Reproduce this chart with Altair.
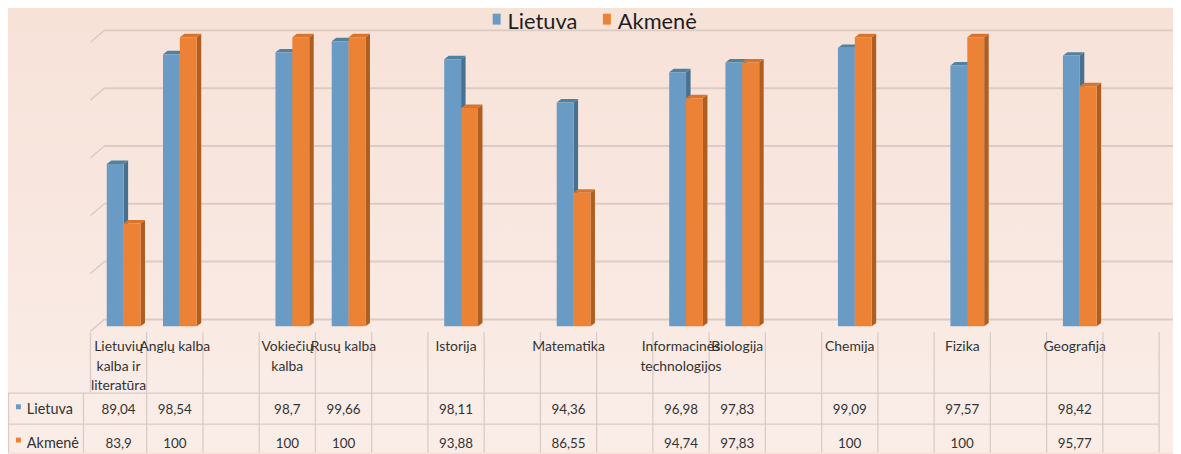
import altair as alt
import pandas as pd

# ---------------- data ----------------
categories = ["Lietuvių kalba ir literatūra", "Anglų kalba", "", "Vokiečių kalba", "Rusų kalba", "",
              "Istorija", "", "Matematika", "", "Informacinės technologijos", "Biologija", "",
              "Chemija", "", "Fizika", "", "Geografija", ""]
category_lines = [["Lietuvių", "kalba ir", "literatūra"], ["Anglų kalba"], [], ["Vokiečių", "kalba"],
                  ["Rusų kalba"], [], ["Istorija"], [], ["Matematika"], [],
                  ["Informacinės", "technologijos"], ["Biologija"], [], ["Chemija"], [], ["Fizika"], [],
                  ["Geografija"], []]
lietuva = [89.04, 98.54, None, 98.7, 99.66, None, 98.11, None, 94.36, None, 96.98, 97.83, None,
           99.09, None, 97.57, None, 98.42, None]
akmene = [83.9, 100, None, 100, 100, None, 93.88, None, 86.55, None, 94.74, 97.83, None,
          100, None, 100, None, 95.77, None]
series = ["Lietuva", "Akmenė"]
y_ticks = [75, 80, 85, 90, 95, 100]

# ---------------- style / layout ----------------
W, H = 1173, 446
BG_TOP, BG_BOTTOM = "#F7E2D8", "#FAEDE8"
FRONT = {"Lietuva": "#6A9BC4", "Akmenė": "#EC8235"}
SIDE = {"Lietuva": "#48708F", "Akmenė": "#B05E1F"}
CAP = {"Lietuva": "#52809F", "Akmenė": "#D7752E"}
GRID = "#DCCBC4"
LINE = "#D9CBC6"
TXT = "#333333"
FONT = "Lato"

n = len(categories)
xs = alt.Scale(domain=[0, n], range=[83, 1159], nice=False, zero=False)
ys = alt.Scale(domain=[y_ticks[0], y_ticks[-1]], range=[319, 28], nice=False, zero=False)
BASE = y_ticks[0]
BAR_W, BAR_SHIFT, DX, DY = 0.30, 0.09, 0.08, 0.30

front_rows, side_rows, cap_rows = [], [], []
for s_i, (sname, vals) in enumerate(zip(series, [lietuva, akmene])):
    for k, v in enumerate(vals):
        if v is None:
            continue
        xl = k + 0.5 + BAR_SHIFT - BAR_W + s_i * BAR_W
        xr = xl + BAR_W
        bid = f"{sname}-{k}"
        front_rows.append({"series": sname, "xl": xl, "xr": xr, "v": v, "base": BASE, "cat": categories[k]})
        side_rows += [{"series": sname, "id": bid, "x": xr, "top": v, "bot": BASE},
                      {"series": sname, "id": bid, "x": xr + DX, "top": v + DY, "bot": BASE + DY}]
        cap_rows += [{"series": sname, "id": bid, "y": v, "xa": xl, "xb": xr},
                     {"series": sname, "id": bid, "y": v + DY, "xa": xl + DX, "xb": xr + DX}]
front = pd.DataFrame(front_rows)
side = pd.DataFrame(side_rows)
cap = pd.DataFrame(cap_rows)

color_scale = alt.Scale(domain=series, range=[FRONT[s] for s in series])

# background gradient
bg = alt.Chart(pd.DataFrame({"a": [0]})).mark_rect(
    color=alt.LinearGradient(gradient="linear", x1=0, x2=0, y1=0, y2=1,
                             stops=[alt.GradientStop(color=BG_TOP, offset=0),
                                    alt.GradientStop(color=BG_BOTTOM, offset=1)])
).encode(x=alt.value(0), x2=alt.value(W), y=alt.value(0), y2=alt.value(H))

grid_df = pd.DataFrame({"v": y_ticks})
grid = alt.Chart(grid_df).mark_rule(color=GRID, strokeWidth=2, yOffset=-7).encode(
    y=alt.Y("v:Q", scale=ys, axis=None), x=alt.value(97), x2=alt.value(W))
stubs = alt.Chart(grid_df).mark_rule(color=GRID, strokeWidth=1.5, yOffset=5, y2Offset=-7).encode(
    y=alt.Y("v:Q", scale=ys, axis=None), y2="v:Q", x=alt.value(83), x2=alt.value(97))

layers = [bg, grid, stubs]
for sname in series:
    sd = side[side.series == sname]
    cd = cap[cap.series == sname]
    fd = front[front.series == sname]
    layers.append(alt.Chart(sd).mark_area(color=SIDE[sname], interpolate="linear").encode(
        x=alt.X("x:Q", scale=xs, axis=None), y=alt.Y("top:Q", scale=ys, axis=None), y2="bot:Q",
        detail="id:N"))
    layers.append(alt.Chart(cd).mark_area(color=CAP[sname], orient="horizontal", interpolate="linear").encode(
        y=alt.Y("y:Q", scale=ys, axis=None), x=alt.X("xa:Q", scale=xs, axis=None), x2="xb:Q",
        detail="id:N"))
    layers.append(alt.Chart(fd).mark_rect().encode(
        x=alt.X("xl:Q", scale=xs, axis=None), x2="xr:Q",
        y=alt.Y("v:Q", scale=ys, axis=None), y2="base:Q",
        color=alt.Color("series:N", scale=color_scale, legend=alt.Legend(
            orient="none", legendX=481, legendY=2, direction="horizontal", title=None,
            labelFont=FONT, labelFontSize=22, labelColor="#1E1E1E",
            symbolType="M-0.73,-1.6H0.73V0.4H-0.73Z", symbolSize=121, symbolStrokeWidth=0,
            symbolOpacity=1, labelOffset=0, columnPadding=18)),
        tooltip=["cat:N", "series:N", "v:Q"]))

# category header column lines
edges = pd.DataFrame({"e": list(range(n + 1))})
head_lines = alt.Chart(edges).mark_rule(color=LINE, strokeWidth=1.3).encode(
    x=alt.X("e:Q", scale=xs, axis=None), y=alt.value(325), y2=alt.value(386))
table_vlines = alt.Chart(edges[edges.e > 0]).mark_rule(color=LINE, strokeWidth=1.3).encode(
    x=alt.X("e:Q", scale=xs, axis=None), y=alt.value(386), y2=alt.value(H))
table_left = alt.Chart(pd.DataFrame({"p": [0.5, 76]})).mark_rule(color=LINE, strokeWidth=1.3).encode(
    x=alt.X("p:Q", scale=None, axis=None), y=alt.value(386), y2=alt.value(H))
table_h = alt.Chart(pd.DataFrame({"r": [386.3, 417.5], "e": [n, n]})).mark_rule(
    color=LINE, strokeWidth=1.3).encode(
    y=alt.Y("r:Q", scale=None, axis=None), x=alt.X("e:Q", scale=xs, axis=None), x2=alt.value(0))

# header labels
head_df = pd.DataFrame({"pos": [k + 0.5 for k in range(n)],
                        "label": ["\n".join(l) for l in category_lines]})
head_df = head_df[head_df.label != ""]
head_text = alt.Chart(head_df).mark_text(font=FONT, fontSize=14, color=TXT, align="center",
                                         baseline="top", lineBreak="\n", lineHeight=19.5).encode(
    x=alt.X("pos:Q", scale=xs, axis=None), y=alt.value(333), text="label:N")

def fmt(v):
    return str(int(v)) if float(v).is_integer() else str(v).replace(".", ",")

val_rows = []
for s_i, (sname, vals) in enumerate(zip(series, [lietuva, akmene])):
    for k, v in enumerate(vals):
        if v is None:
            continue
        val_rows.append({"series": sname, "pos": k + 0.5, "txt": fmt(v)})
val_df = pd.DataFrame(val_rows)
row_y = {"Lietuva": 403.5, "Akmenė": 437}
val_layers = []
for sname in series:
    val_layers.append(alt.Chart(val_df[val_df.series == sname]).mark_text(
        font=FONT, fontSize=13.5, color=TXT, align="center", baseline="middle").encode(
        x=alt.X("pos:Q", scale=xs, axis=None), y=alt.value(row_y[sname]), text="txt:N"))
    rl = pd.DataFrame({"series": [sname]})
    val_layers.append(alt.Chart(rl).mark_text(
        font=FONT, fontSize=14.5, color=TXT, align="left", baseline="middle").encode(
        x=alt.value(19), y=alt.value(row_y[sname]), text="series:N"))
    val_layers.append(alt.Chart(rl).mark_rect().encode(
        x=alt.value(8), x2=alt.value(13), y=alt.value(row_y[sname] - 6), y2=alt.value(row_y[sname] - 1),
        color=alt.Color("series:N", scale=color_scale, legend=None)))

chart = alt.layer(*layers, head_lines, table_vlines, table_left, table_h, head_text, *val_layers).properties(
    width=W, height=H, padding=0, autosize=alt.AutoSizeParams(type="none"),
    background=BG_TOP
).configure_view(stroke=None)

chart.save("out.html", embed_options={"renderer": "svg", "actions": False})
